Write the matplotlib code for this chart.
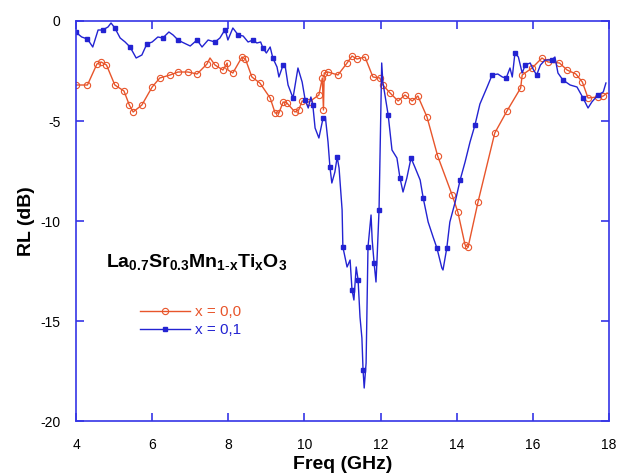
import matplotlib
matplotlib.use("Agg")
from matplotlib import pyplot as plt

plt.rcParams['font.family'] = ['Liberation Sans', 'DejaVu Sans']
plt.rcParams['mathtext.fontset'] = 'custom'
plt.rcParams['mathtext.rm'] = 'Liberation Sans'
plt.rcParams['mathtext.bf'] = 'Liberation Sans:bold'
plt.rcParams['axes.unicode_minus'] = False

# x = 0,0 (orange)
freq_a = [4.0, 4.3, 4.55, 4.66, 4.8, 5.02, 5.26, 5.4, 5.5, 5.73,
          6.0, 6.2, 6.47, 6.68, 6.94, 7.18, 7.44, 7.52, 7.65, 7.86,
          7.97, 7.99, 8.12, 8.36, 8.45, 8.62, 8.83, 9.1, 9.23, 9.33,
          9.44, 9.54, 9.75, 9.85, 9.94, 10.12, 10.38, 10.47, 10.5, 10.52,
          10.62, 10.88, 11.12, 11.25, 11.38, 11.59, 11.8, 11.98, 12.06, 12.25,
          12.46, 12.64, 12.83, 12.98, 13.22, 13.5, 13.88, 14.03, 14.22, 14.3,
          14.56, 15.0, 15.32, 15.68, 15.72, 15.98, 16.24, 16.4, 16.7, 16.9,
          17.13, 17.3, 17.45, 17.7, 17.85, 17.95, 18.0]
rl_a = [-3.2, -3.2, -2.15, -2.05, -2.2, -3.2, -3.5, -4.2, -4.55, -4.2,
        -3.3, -2.85, -2.7, -2.55, -2.55, -2.65, -2.15, -1.85, -2.2, -2.45,
        -2.1, -2.45, -2.6, -1.8, -1.9, -2.8, -3.1, -3.85, -4.6, -4.6,
        -4.05, -4.1, -4.55, -4.45, -4.0, -4.05, -3.7, -2.85, -4.45, -2.6,
        -2.55, -2.7, -2.1, -1.75, -1.9, -1.8, -2.8, -2.85, -3.2, -3.6,
        -4.0, -3.7, -4.0, -3.75, -4.8, -6.75, -8.7, -9.55, -11.2, -11.3,
        -9.05, -5.6, -4.5, -3.35, -2.7, -2.35, -1.85, -2.05, -2.1, -2.45,
        -2.65, -3.05, -3.85, -3.8, -3.75, -3.6, -3.65]

# x = 0,1 (blue)
freq_b = [4.0, 4.02, 4.15, 4.3, 4.44, 4.58, 4.7, 4.84, 4.92, 5.02,
          5.16, 5.29, 5.42, 5.58, 5.73, 5.86, 6.0, 6.15, 6.28, 6.44,
          6.55, 6.68, 6.78, 7.0, 7.18, 7.31, 7.47, 7.65, 7.78, 7.86,
          7.92, 7.99, 8.12, 8.26, 8.39, 8.52, 8.65, 8.75, 8.85, 8.91,
          9.0, 9.1, 9.17, 9.28, 9.33, 9.44, 9.49, 9.57, 9.7, 9.83,
          9.94, 10.02, 10.1, 10.17, 10.22, 10.28, 10.38, 10.49, 10.55, 10.62,
          10.67, 10.72, 10.8, 10.86, 10.91, 10.99, 11.01, 11.12, 11.2, 11.25,
          11.3, 11.36, 11.41, 11.46, 11.51, 11.54, 11.57, 11.62, 11.67, 11.75,
          11.78, 11.83, 11.88, 11.91, 11.96, 12.03, 12.06, 12.2, 12.3, 12.43,
          12.51, 12.59, 12.69, 12.8, 12.9, 13.04, 13.12, 13.25, 13.38, 13.48,
          13.61, 13.64, 13.74, 13.82, 13.96, 14.09, 14.22, 14.35, 14.48, 14.61,
          14.8, 14.93, 15.08, 15.2, 15.3, 15.4, 15.46, 15.53, 15.62, 15.72,
          15.8, 15.93, 16.02, 16.1, 16.2, 16.32, 16.5, 16.58, 16.66, 16.79,
          16.98, 17.16, 17.32, 17.45, 17.55, 17.71, 17.85, 17.92]
rl_b = [-0.55, -0.6, -0.8, -0.9, -1.3, -0.45, -0.45, -0.3, -0.1, -0.35,
        -0.85, -1.05, -1.3, -1.85, -1.7, -1.15, -1.05, -0.8, -0.85, -0.55,
        -0.7, -0.95, -1.05, -1.25, -0.95, -1.3, -0.95, -1.05, -0.85, -0.6,
        -0.45, -0.95, -0.35, -0.7, -0.75, -1.05, -0.95, -1.1, -1.05, -1.35,
        -1.6, -1.3, -1.85, -2.3, -2.8, -2.2, -2.2, -3.2, -3.85, -2.35,
        -3.05, -3.95, -4.35, -3.8, -4.2, -5.35, -5.85, -4.85, -4.8, -6.05,
        -7.3, -8.1, -7.55, -6.8, -7.35, -9.45, -11.3, -12.3, -11.95, -13.45,
        -13.95, -12.3, -12.95, -14.8, -15.85, -17.45, -18.35, -17.1, -11.3, -9.7,
        -10.95, -12.1, -13.05, -11.8, -9.45, -2.1, -3.05, -4.7, -6.45, -6.85,
        -7.85, -8.55, -7.85, -6.85, -7.3, -7.95, -8.85, -10.05, -10.8, -11.35,
        -12.35, -12.45, -11.35, -10.05, -9.05, -7.95, -7.05, -6.05, -5.2, -4.15,
        -3.3, -2.7, -2.65, -2.8, -2.85, -2.35, -2.8, -1.6, -1.8, -2.6,
        -2.2, -2.1, -2.45, -2.7, -2.2, -1.95, -1.95, -1.8, -2.6, -2.95,
        -3.2, -3.3, -3.85, -4.35, -4.05, -3.7, -3.55, -3.1]

labels = ['x = 0,0', 'x = 0,1']
orange = '#e8552b'
blue = '#2323d2'
frame = '#3535e6'

fig = plt.figure(figsize=(6.19, 4.74), dpi=100)
ax = fig.add_axes([0.1228, 0.1118, 0.8610, 0.8439])

ax.plot(freq_a, rl_a, color=orange, lw=1.0, marker='o', ms=4.5, mfc='none',
        mec=orange, mew=0.8, markevery=0.0125, label=labels[0])
ax.plot(freq_b, rl_b, color=blue, lw=1.0, marker='s', ms=2.2, mfc=blue,
        mec=blue, markevery=3, label=labels[1])

ax.set_xlim(4, 18)
ax.set_ylim(-20, 0)
ax.set_xticks(range(4, 19, 2))
ax.set_yticks(range(-20, 1, 5))
ax.tick_params(direction='in', length=6, width=1.2, color=frame,
               top=True, right=True, labelsize=10)
ax.tick_params(axis='y', pad=11)
ax.tick_params(axis='x', pad=12)
for s in ax.spines.values():
    s.set_color(frame)
    s.set_linewidth(1.2)

ax.set_xlabel('Freq (GHz)', fontsize=14, fontweight='bold', labelpad=3)
ax.set_ylabel('RL (dB)', fontsize=14, fontweight='bold', labelpad=4)

ax.text(4.8, -12.05, r'$\mathbf{La_{0.7}Sr_{0.3}Mn_{1\text{-}x}Ti_xO_3}$',
        fontsize=14, va='center', ha='left')

leg = ax.legend(loc='center left', bbox_to_anchor=(0.105, 0.25), frameon=False,
                fontsize=11, handlelength=3.3, handletextpad=0.3,
                labelspacing=0.25, borderpad=0, numpoints=1,
                labelcolor='linecolor')

fig.savefig('out.png', dpi=100)
